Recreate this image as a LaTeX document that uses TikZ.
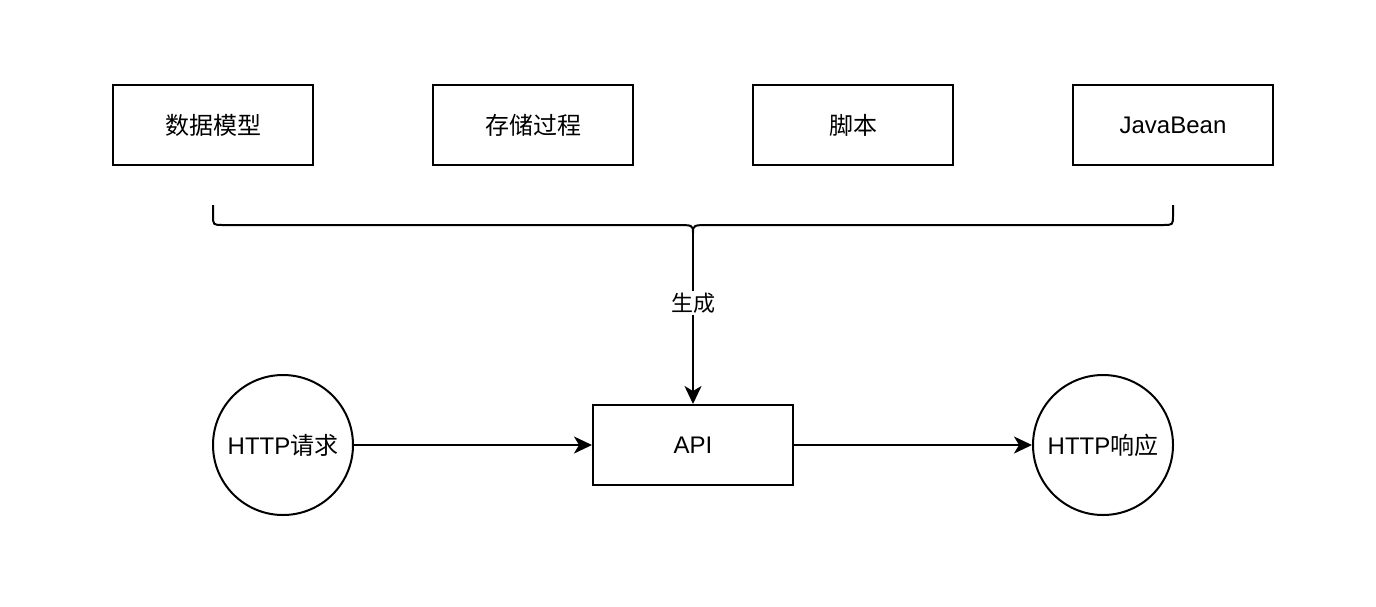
\documentclass[tikz,border=0pt]{standalone}
\usepackage{fontspec}
\setmainfont{Liberation Sans}
\newfontfamily\cjk{Noto Sans CJK SC}
\usetikzlibrary{arrows.meta}
\begin{document}
\begin{tikzpicture}[x=1pt,y=-1pt,
  line width=2pt,
  txt/.style={font=\fontsize{24}{28}\selectfont},
  box/.style={draw, txt, minimum width=200pt, minimum height=80pt, inner sep=0pt},
  circ/.style={draw, circle, txt, minimum size=140pt, inner sep=0pt},
  arr/.style={-{Stealth[length=18pt,width=17pt,inset=5pt]}},
  lbl/.style={fill=white, inner sep=2pt, font=\fontsize{22}{26}\selectfont}]
\useasboundingbox (0,0) rectangle (1376,606);
\node[box] (b1) at (213,125) {\cjk 数据模型};
\node[box] (b2) at (533,125) {\cjk 存储过程};
\node[box] (b3) at (853,125) {\cjk 脚本};
\node[box] (b4) at (1173,125) {JavaBean};
\node[box] (api) at (693,445) {API};
\node[circ] (req) at (283,445) {HTTP{\cjk 请求}};
\node[circ] (resp) at (1103,445) {HTTP{\cjk 响应}};
\coordinate (bl) at (213,205);
\coordinate (br) at (1173,205);
\coordinate (tip) at (693,233);
\draw (bl) -- (213,215) .. controls (213,225) .. (223,225) -- (675,225)
  .. controls (693,225) .. (tip) .. controls (693,225) .. (711,225)
  -- (1163,225) .. controls (1173,225) .. (1173,215) -- (br);
\draw[arr] (tip) -- node[lbl, pos=0.41] {\cjk 生成} (api.north);
\draw[arr] (req) -- (api);
\draw[arr] (api) -- (resp);
\end{tikzpicture}
\end{document}
